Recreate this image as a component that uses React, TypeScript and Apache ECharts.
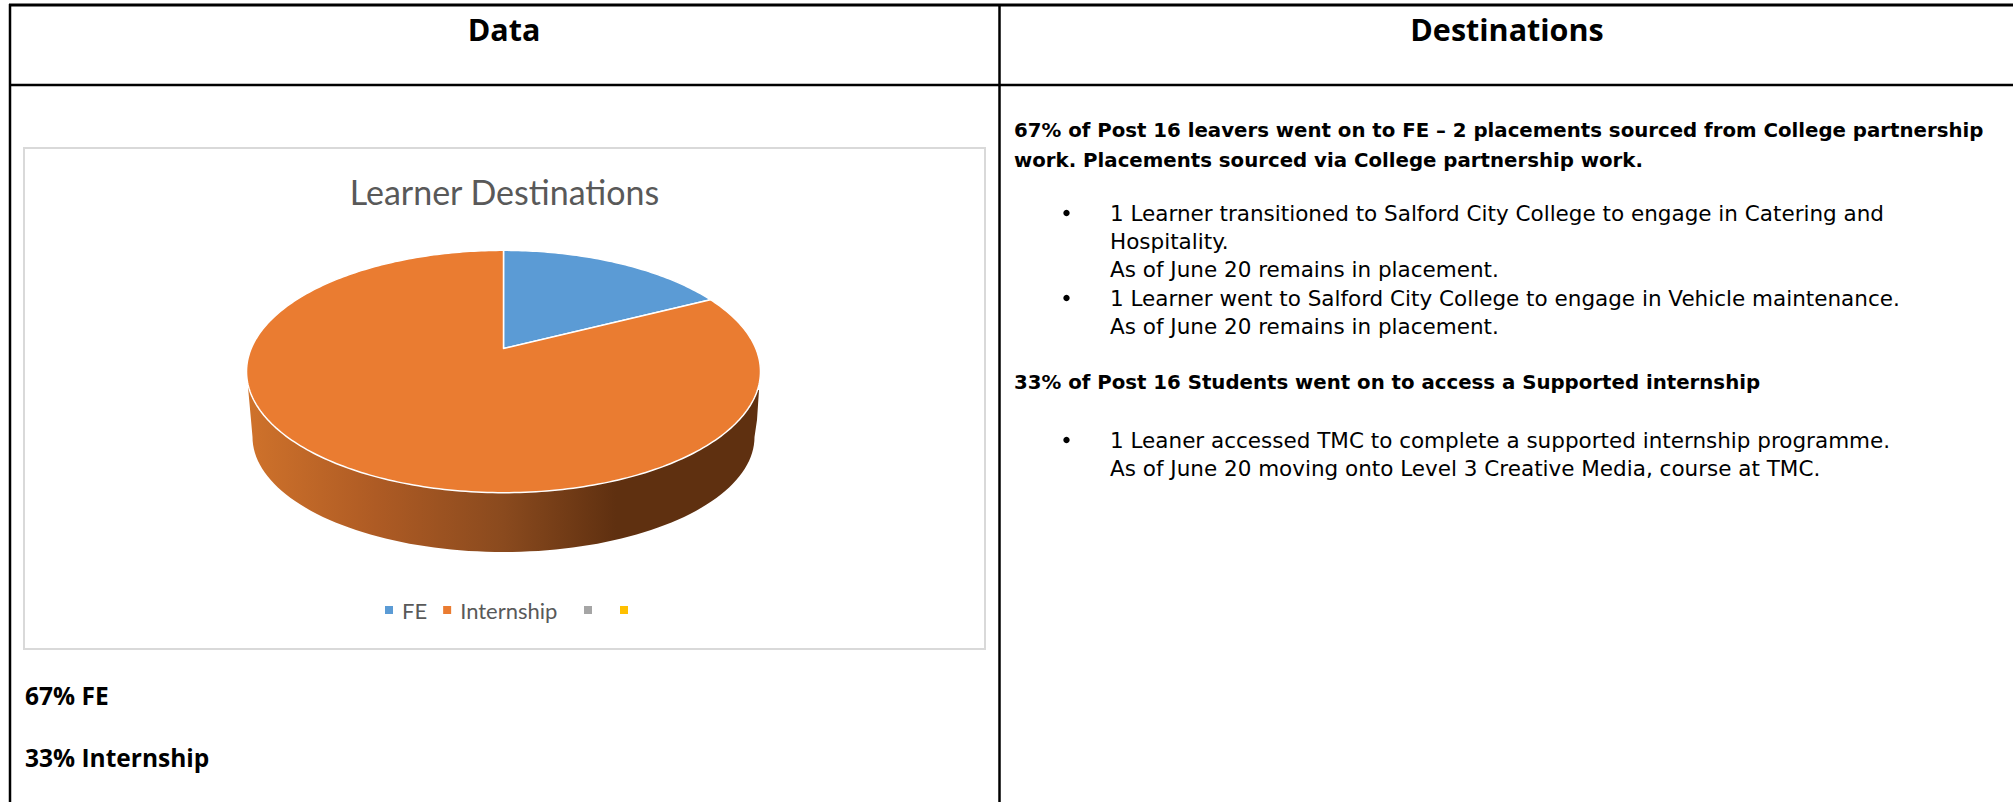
import React, { useEffect, useRef } from "react";
import * as echarts from "echarts";

const sliceNames = ["FE", "Internship", "Series 3", "Series 4"];
const sliceValues = [17.5, 82.5, 0, 0];
const sliceColors = ["#5B9BD5", "#EA7C31", "#A5A5A5", "#FFC000"];
const titleText = "Learner Destinations";
const headers = ["Data", "Destinations"];
const leftNotes = ["67% FE", "33% Internship"];
const rightBold = [
  "67% of Post 16 leavers went on to FE \u2013 2 placements sourced from College partnership",
  "work. Placements sourced via College partnership work.",
  "33% of Post 16 Students went on to access a Supported internship",
];
const rightBody = [
  "1 Learner transitioned to Salford City College to engage in Catering and",
  "Hospitality.",
  "As of June 20 remains in placement.",
  "1 Learner went to Salford City College to engage in Vehicle maintenance.",
  "As of June 20 remains in placement.",
  "1 Leaner accessed TMC to complete a supported internship programme.",
  "As of June 20 moving onto Level 3 Creative Media, course at TMC.",
];

const BODY_FONT = "'DejaVu Sans', sans-serif";
const HEAD_FONT = "'Open Sans', sans-serif";
const CHART_FONT = "Lato, sans-serif";
const BODY_SIZE = 21.5;
const BOLD_SIZE = 19.75;

// Perspective projection of the unit circle on to the tilted pie's top face.
const CX = 503.5;
const APEX_Y = 348.5;
const SCALE_X = 252.3;
const SCALE_Y = 116.8;
const TILT = -0.19;
const project = (a: number): number[] => {
  const x = Math.sin(a);
  const y = -Math.cos(a);
  const d = 1 + TILT * y;
  return [CX + (SCALE_X * x) / d, APEX_Y + (SCALE_Y * y) / d];
};

const total = sliceValues.reduce((s, v) => s + v, 0);
const sliceStart = (idx: number) =>
  (sliceValues.slice(0, idx).reduce((s, v) => s + v, 0) / total) * Math.PI * 2;

const arcPoints = (a0: number, a1: number) => {
  const n = Math.max(2, Math.round(((a1 - a0) / (Math.PI * 2)) * 360));
  const pts: number[][] = [];
  for (let i = 0; i <= n; i++) pts.push(project(a0 + ((a1 - a0) * i) / n));
  return pts;
};

const makeRenderItem = (idx: number) => (_: any, api: any) => {
  const value = api.value(0);
  if (!value) return null;
  const a0 = sliceStart(idx);
  const a1 = a0 + (value / total) * Math.PI * 2;
  const face = {
    type: "polygon",
    z2: 10,
    shape: { points: [[CX, APEX_Y], ...arcPoints(a0, a1)] },
    style: { fill: sliceColors[idx], stroke: "#ffffff", lineWidth: 1.5, lineJoin: "round" },
  };
  if (a1 < Math.PI * 1.2) return face;
  // rim: only the slice that faces the viewer has a visible side wall
  const rimBottom: number[][] = [[248, 387], [251, 420]];
  const LOW_Y = 437;
  const LOW_RX = 251;
  const LOW_RY = 115;
  for (let i = 0; i <= 90; i++) {
    const t = (Math.PI * i) / 90;
    rimBottom.push([CX - LOW_RX * Math.cos(t), LOW_Y + LOW_RY * Math.sin(t)]);
  }
  rimBottom.push([757, 420], [759, 390], [CX, 400]);
  return {
    type: "group",
    children: [
      {
        type: "polygon",
        z2: 1,
        shape: { points: rimBottom },
        style: {
          fill: new echarts.graphic.LinearGradient(0, 0, 1, 0, [
            { offset: 0, color: "#CF722B" },
            { offset: 0.25, color: "#AE5B24" },
            { offset: 0.5, color: "#8A4A1E" },
            { offset: 0.72, color: "#5F3010" },
            { offset: 1, color: "#5F3010" },
          ]),
        },
      },
      face,
    ],
  };
};

const text = (t: string, x: number, y: number, size: number, weight: string, font: string, align = "left") => ({
  type: "text",
  x,
  y,
  style: { text: t, fontSize: size, fontWeight: weight, fontFamily: font, fill: "#000000", align, verticalAlign: "middle" },
});
const vline = (x: number, y1: number, y2: number, w: number) => ({
  type: "line",
  shape: { x1: x, y1, x2: x, y2 },
  style: { stroke: "#000000", lineWidth: w },
});
const hline = (x1: number, x2: number, y: number, w: number) => ({
  type: "line",
  shape: { x1, y1: y, x2, y2: y },
  style: { stroke: "#000000", lineWidth: w },
});
const bullet = (y: number) => ({ type: "circle", shape: { cx: 1066.5, cy: y, r: 3.2 }, style: { fill: "#000000" } });

const legendFormatter = (name: string) => (name.startsWith("Series") ? "" : name);
const legendBase = {
  orient: "horizontal",
  padding: 0,
  itemWidth: 8,
  itemHeight: 8,
  itemGap: 16,
  icon: "rect",
  selectedMode: false,
  formatter: legendFormatter,
  textStyle: { fontSize: 22, color: "#595959", fontFamily: CHART_FONT, padding: [0, 0, 0, 4] },
};

export default function App() {
  const ref = useRef<HTMLDivElement>(null);
  useEffect(() => {
    const chart = echarts.init(ref.current!, undefined, { renderer: "svg" });
    chart.setOption({
      animation: false,
      backgroundColor: "#ffffff",
      title: {
        text: titleText,
        left: 499.5,
        top: 169,
        textAlign: "center",
        textStyle: { fontSize: 34, fontWeight: 400, color: "#595959", fontFamily: CHART_FONT },
      },
      legend: [
        { ...legendBase, left: 385, top: 599, data: sliceNames.slice(0, 2) },
        { ...legendBase, left: 584, top: 606, data: sliceNames.slice(2, 3) },
        { ...legendBase, left: 620, top: 606, data: sliceNames.slice(3) },
      ],
      series: sliceNames.map((name, i) => ({
        type: "custom",
        name,
        coordinateSystem: "none",
        data: [[sliceValues[i]]],
        itemStyle: { color: sliceColors[i] },
        renderItem: makeRenderItem(i),
        silent: true,
      })),
      graphic: [
        {
          type: "rect",
          shape: { x: 24, y: 148, width: 961, height: 501 },
          style: { fill: "#ffffff", stroke: "#D9D9D9", lineWidth: 2 },
          z: -1,
        },
        hline(9, 2013, 5, 3),
        hline(9, 2013, 85, 2.5),
        vline(10, 4, 802, 2.5),
        vline(999.5, 4, 802, 2.5),
        text(headers[0], 504, 29, 30.5, "700", HEAD_FONT, "center"),
        text(headers[1], 1507, 29, 30.5, "700", HEAD_FONT, "center"),
        text(leftNotes[0], 25, 695, 24.5, "700", HEAD_FONT),
        text(leftNotes[1], 25, 757, 24.5, "700", HEAD_FONT),
        text(rightBold[0], 1014, 130, BOLD_SIZE, "700", BODY_FONT),
        text(rightBold[1], 1014, 160, BOLD_SIZE, "700", BODY_FONT),
        text(rightBold[2], 1014, 382, BOLD_SIZE, "700", BODY_FONT),
        text(rightBody[0], 1110, 213, BODY_SIZE, "400", BODY_FONT),
        text(rightBody[1], 1110, 241, BODY_SIZE, "400", BODY_FONT),
        text(rightBody[2], 1110, 269, BODY_SIZE, "400", BODY_FONT),
        text(rightBody[3], 1110, 298, BODY_SIZE, "400", BODY_FONT),
        text(rightBody[4], 1110, 326, BODY_SIZE, "400", BODY_FONT),
        text(rightBody[5], 1110, 440, BODY_SIZE, "400", BODY_FONT),
        text(rightBody[6], 1110, 468, BODY_SIZE, "400", BODY_FONT),
        bullet(213),
        bullet(298),
        bullet(440),
      ],
    });
    return () => chart.dispose();
  }, []);
  return <div ref={ref} style={{ position: "absolute", left: 0, top: 0, width: 2013, height: 802 }} />;
}
